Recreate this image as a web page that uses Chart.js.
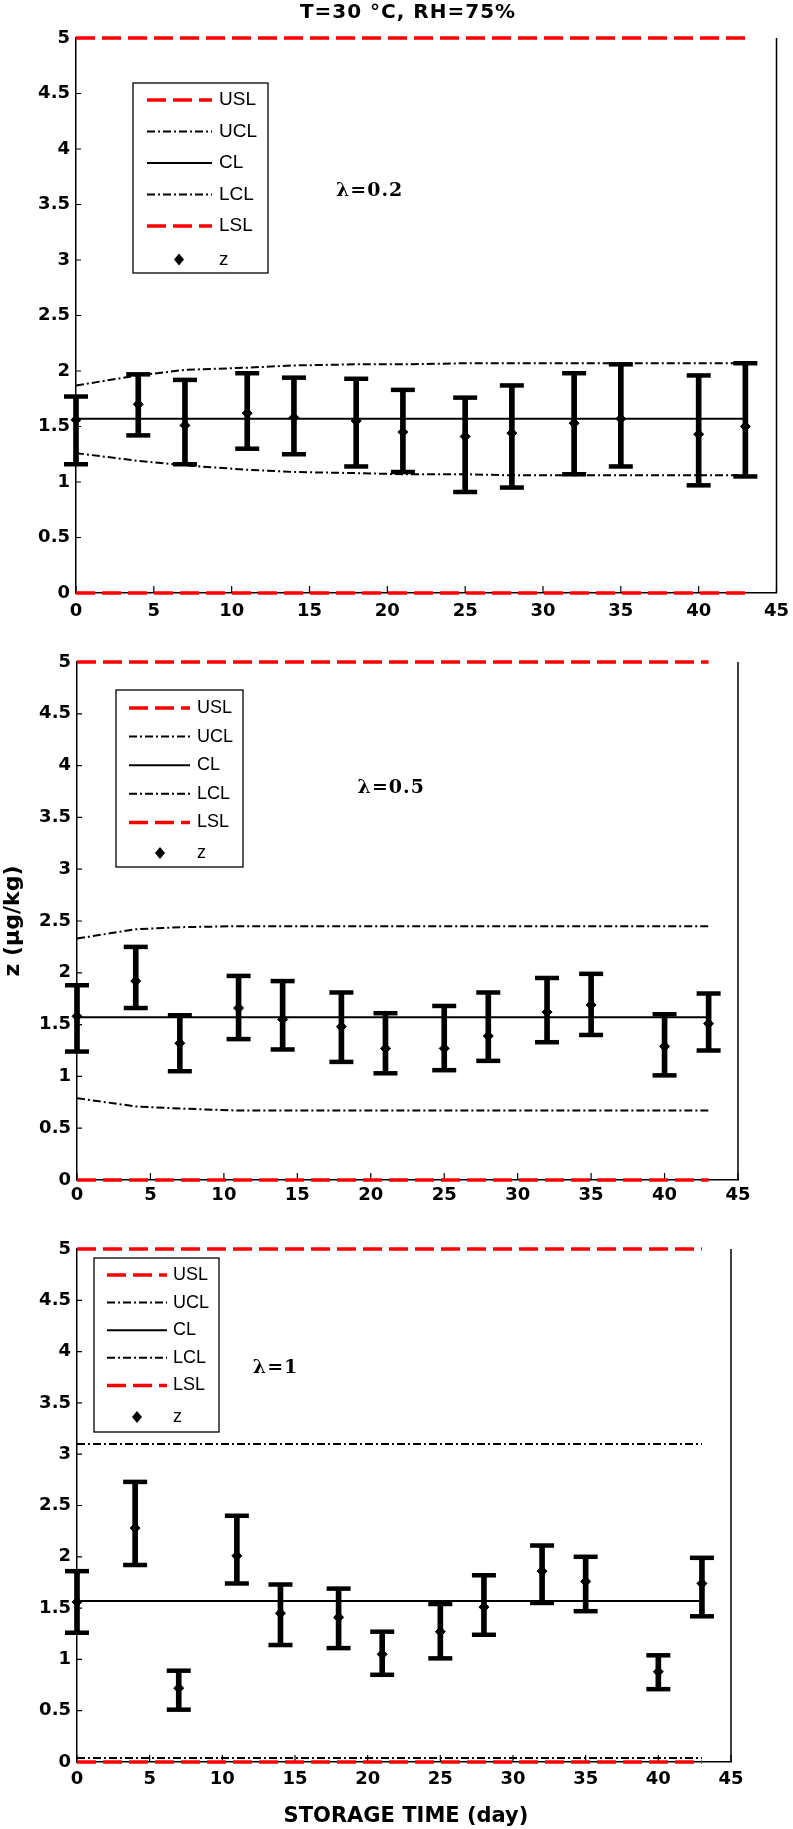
<!DOCTYPE html>
<html>
<head>
<meta charset="utf-8">
<script src="https://cdn.jsdelivr.net/npm/chart.js@4.4.1/dist/chart.umd.min.js"></script>
<style>
  html, body { margin: 0; padding: 0; background: #fff; }
  body { position: relative; width: 793px; height: 1829px; overflow: hidden; }
  canvas { position: absolute; left: 0; }
</style>
</head>
<body>
<canvas id="panel1"></canvas>
<canvas id="panel2"></canvas>
<canvas id="panel3"></canvas>
<script>
// storage days and axis ticks
const days = [0, 4, 7, 11, 14, 18, 21, 25, 28, 32, 35, 40, 43];
const xTicks = [0, 5, 10, 15, 20, 25, 30, 35, 40, 45];
const yTicks = [0, 0.5, 1, 1.5, 2, 2.5, 3, 3.5, 4, 4.5, 5];
const USL = 5;
const LSL = 0;

// lambda = 0.2
const z02   = [1.56, 1.70, 1.51, 1.62, 1.58, 1.55, 1.45, 1.41, 1.44, 1.53, 1.57, 1.43, 1.50];
const lo02  = [1.16, 1.42, 1.16, 1.30, 1.25, 1.14, 1.09, 0.91, 0.95, 1.07, 1.14, 0.97, 1.05];
const hi02  = [1.77, 1.97, 1.92, 1.98, 1.94, 1.93, 1.83, 1.76, 1.87, 1.98, 2.06, 1.96, 2.07];
const ucl02 = [1.87, 1.96, 2.01, 2.03, 2.05, 2.06, 2.06, 2.07, 2.07, 2.07, 2.07, 2.07, 2.07];
const lcl02 = [1.26, 1.19, 1.15, 1.11, 1.09, 1.08, 1.07, 1.07, 1.06, 1.06, 1.06, 1.06, 1.06];
const cl02 = 1.57;

// lambda = 0.5
const z05   = [1.58, 1.92, 1.32, 1.66, 1.55, 1.48, 1.27, 1.27, 1.39, 1.62, 1.69, 1.29, 1.51];
const lo05  = [1.24, 1.66, 1.05, 1.36, 1.26, 1.14, 1.03, 1.06, 1.15, 1.33, 1.40, 1.01, 1.25];
const hi05  = [1.88, 2.25, 1.59, 1.97, 1.92, 1.81, 1.61, 1.68, 1.81, 1.95, 1.99, 1.60, 1.80];
const ucl05 = [2.33, 2.42, 2.44, 2.45, 2.45, 2.45, 2.45, 2.45, 2.45, 2.45, 2.45, 2.45, 2.45];
const lcl05 = [0.79, 0.71, 0.69, 0.67, 0.67, 0.67, 0.67, 0.67, 0.67, 0.67, 0.67, 0.67, 0.67];
const cl05 = 1.57;

// lambda = 1
const z1   = [1.56, 2.28, 0.72, 2.01, 1.45, 1.41, 1.05, 1.27, 1.51, 1.86, 1.76, 0.88, 1.74];
const lo1  = [1.26, 1.92, 0.51, 1.74, 1.14, 1.11, 0.85, 1.01, 1.24, 1.55, 1.47, 0.71, 1.42];
const hi1  = [1.86, 2.73, 0.89, 2.40, 1.73, 1.69, 1.27, 1.54, 1.82, 2.11, 2.00, 1.04, 1.99];
const ucl1 = [3.10, 3.10, 3.10, 3.10, 3.10, 3.10, 3.10, 3.10, 3.10, 3.10, 3.10, 3.10, 3.10];
const lcl1 = [0.04, 0.04, 0.04, 0.04, 0.04, 0.04, 0.04, 0.04, 0.04, 0.04, 0.04, 0.04, 0.04];
const cl1 = 1.57;

const RED = '#ff0000';
const specStyle = { color: RED, width: 3.5, dash: [19, 7] };
const limitStyle = { color: '#000', width: 2, dash: [8, 3, 2, 3] };
const clStyle = { color: '#000', width: 2, dash: [] };
const tickFont = { family: '"DejaVu Sans", sans-serif', size: 18, weight: 'bold' };

const legendItems = [
  { text: 'USL', style: specStyle },
  { text: 'UCL', style: limitStyle },
  { text: 'CL', style: clStyle },
  { text: 'LCL', style: limitStyle },
  { text: 'LSL', style: specStyle },
  { text: 'z', marker: true }
];

function buildDatasets(s) {
  const pts = values => days.map((d, i) => ({ x: d, y: values[i] }));
  const flat = v => [{ x: days[0], y: v }, { x: days[days.length - 1], y: v }];
  const lineSet = (label, data, st, order) => ({
    type: 'line', label, data, order,
    borderColor: st.color, borderWidth: st.width, borderDash: st.dash,
    pointRadius: 0, tension: 0, fill: false, clip: false
  });
  return [
    { type: 'scatter', label: 'z', data: pts(s.z), order: 0, clip: false,
      pointStyle: 'rectRot', pointRadius: 5, pointBackgroundColor: '#000', pointBorderColor: '#000', pointBorderWidth: 1 },
    { type: 'scatter', label: 'caps', data: [...pts(s.lo), ...pts(s.hi)], order: 1, clip: false,
      pointStyle: 'line', pointRadius: 12, pointBorderColor: '#000', pointBorderWidth: 4.5 },
    { type: 'bar', label: 'bars', data: days.map((d, i) => ({ x: d, y: [s.lo[i], s.hi[i]] })), order: 2, clip: false,
      backgroundColor: '#000', borderWidth: 0, barThickness: 5 },
    lineSet('CL', flat(s.cl), clStyle, 3),
    lineSet('UCL', pts(s.ucl), limitStyle, 4),
    lineSet('LCL', pts(s.lcl), limitStyle, 5),
    lineSet('USL', flat(USL), specStyle, 6),
    lineSet('LSL', flat(LSL), specStyle, 7)
  ];
}

function drawLegend(ctx, a, lg) {
  const bx = a.left + lg.left, by = a.top + lg.top;
  ctx.save();
  ctx.fillStyle = '#fff';
  ctx.fillRect(bx, by, lg.width, lg.height);
  ctx.strokeStyle = '#000';
  ctx.lineWidth = 1.3;
  ctx.setLineDash([]);
  ctx.strokeRect(bx, by, lg.width, lg.height);
  ctx.font = lg.font;
  ctx.textBaseline = 'middle';
  ctx.textAlign = 'left';
  legendItems.forEach((it, i) => {
    const ry = by + lg.firstRow + i * lg.rowGap + (it.marker ? lg.zExtra : 0);
    if (it.marker) {
      ctx.fillStyle = '#000';
      ctx.beginPath();
      const mx = bx + lg.markerX;
      ctx.moveTo(mx, ry - 6); ctx.lineTo(mx + 5, ry); ctx.lineTo(mx, ry + 6); ctx.lineTo(mx - 5, ry);
      ctx.closePath();
      ctx.fill();
    } else {
      ctx.strokeStyle = it.style.color;
      ctx.lineWidth = it.style.width;
      ctx.setLineDash(it.style.dash);
      ctx.beginPath();
      ctx.moveTo(bx + lg.sampleFrom, ry);
      ctx.lineTo(bx + lg.sampleTo, ry);
      ctx.stroke();
      ctx.setLineDash([]);
    }
    ctx.fillStyle = '#000';
    ctx.fillText(it.text, bx + lg.textX, ry);
  });
  ctx.restore();
}

function decorPlugin(p) {
  return {
    id: 'panelDecor',
    beforeDatasetsDraw(chart) {
      const { ctx, chartArea: a, scales: { x, y } } = chart;
      ctx.save();
      ctx.strokeStyle = '#000';
      ctx.lineWidth = 1.2;
      ctx.beginPath();
      y.ticks.forEach(t => {
        const py = y.getPixelForValue(t.value);
        ctx.moveTo(a.left, py); ctx.lineTo(a.left + 5, py);
      });
      x.ticks.forEach(t => {
        const px = x.getPixelForValue(t.value);
        ctx.moveTo(px, a.bottom); ctx.lineTo(px, a.bottom - 7);
      });
      ctx.stroke();
      ctx.lineWidth = 1.5;
      ctx.beginPath();
      ctx.moveTo(a.right, a.top); ctx.lineTo(a.right, a.bottom);
      ctx.stroke();
      ctx.restore();
    },
    afterDraw(chart) {
      const { ctx, chartArea: a, scales: { x, y } } = chart;
      drawLegend(ctx, a, p.legend);
      p.notes.forEach(n => {
        ctx.save();
        ctx.font = n.font;
        ctx.fillStyle = '#000';
        ctx.textBaseline = 'middle';
        ctx.textAlign = n.align;
        if (n.spacing) ctx.letterSpacing = n.spacing;
        const px = n.data ? x.getPixelForValue(n.x) : n.x;
        const py = n.data ? y.getPixelForValue(n.y) : n.y;
        ctx.translate(px, py);
        if (n.rotate) ctx.rotate(-Math.PI / 2);
        ctx.fillText(n.text, 0, 0);
        ctx.restore();
      });
    }
  };
}

const panels = [
  {
    id: 'panel1', top: 0, height: 640, xAxisHeight: 40, tickPadX: 8,
    area: { left: 76, top: 38, right: 783, bottom: 593 },
    series: { z: z02, lo: lo02, hi: hi02, ucl: ucl02, lcl: lcl02, cl: cl02 },
    legend: { left: 57, top: 45, width: 135, height: 190, firstRow: 17, rowGap: 31.5, zExtra: 2,
              sampleFrom: 14, sampleTo: 79, textX: 86, markerX: 46, font: '19px "Liberation Sans", Arial, sans-serif' },
    notes: [
      { text: 'T=30 °C, RH=75%', x: 408, y: 13, align: 'center', font: 'bold 20px "DejaVu Sans", sans-serif', spacing: '1px' },
      { text: 'λ=0.2', x: 16.7, y: 3.62, data: true, align: 'left', font: 'bold 19px "DejaVu Serif", serif', spacing: '1px' }
    ]
  },
  {
    id: 'panel2', top: 640, height: 575, xAxisHeight: 30, tickPadX: 5,
    area: { left: 77, top: 662, right: 738, bottom: 1180 },
    series: { z: z05, lo: lo05, hi: hi05, ucl: ucl05, lcl: lcl05, cl: cl05 },
    legend: { left: 39, top: 28, width: 127, height: 177, firstRow: 18, rowGap: 28.6, zExtra: 2,
              sampleFrom: 13, sampleTo: 74, textX: 81, markerX: 44, font: '18px "Liberation Sans", Arial, sans-serif' },
    notes: [
      { text: 'λ=0.5', x: 19.1, y: 3.78, data: true, align: 'left', font: 'bold 19px "DejaVu Serif", serif', spacing: '1px' },
      { text: 'z (μg/kg)', x: 13, y: 281, rotate: true, align: 'center', font: 'bold 22px "DejaVu Sans", sans-serif' }
    ]
  },
  {
    id: 'panel3', top: 1215, height: 614, xAxisHeight: 60, tickPadX: 7,
    area: { left: 77, top: 1249, right: 731, bottom: 1762 },
    series: { z: z1, lo: lo1, hi: hi1, ucl: ucl1, lcl: lcl1, cl: cl1 },
    legend: { left: 17, top: 9, width: 125, height: 174, firstRow: 17, rowGap: 27.6, zExtra: 4,
              sampleFrom: 13, sampleTo: 73, textX: 79, markerX: 43, font: '18px "Liberation Sans", Arial, sans-serif' },
    notes: [
      { text: 'λ=1', x: 12.1, y: 3.84, data: true, align: 'left', font: 'bold 19px "DejaVu Serif", serif', spacing: '1px' },
      { text: 'STORAGE TIME (day)', x: 406, y: 602, align: 'center', font: 'bold 21px "DejaVu Sans", sans-serif' }
    ]
  }
];

panels.forEach(p => {
  const canvas = document.getElementById(p.id);
  canvas.width = 793;
  canvas.height = p.height;
  canvas.style.top = p.top + 'px';
  const a = p.area;
  new Chart(canvas, {
    type: 'scatter',
    data: { datasets: buildDatasets(p.series) },
    options: {
      responsive: false,
      animation: false,
      events: [],
      layout: {
        padding: {
          left: 0,
          top: a.top - p.top,
          right: 793 - a.right,
          bottom: p.height - (a.bottom - p.top) - p.xAxisHeight
        }
      },
      plugins: {
        legend: { display: false },
        tooltip: { enabled: false }
      },
      scales: {
        x: {
          type: 'linear', min: 0, max: 45, offset: false,
          grid: { display: false, drawTicks: false, offset: false },
          border: { display: true, color: '#000', width: 1.5 },
          ticks: { color: '#000', font: tickFont, padding: p.tickPadX, maxRotation: 0, autoSkip: false,
                   callback: v => String(v) },
          afterBuildTicks: s => { s.ticks = xTicks.map(v => ({ value: v })); },
          afterFit: s => { s.height = p.xAxisHeight; s.paddingLeft = 0; s.paddingRight = 0; }
        },
        y: {
          type: 'linear', min: 0, max: 5,
          grid: { display: false, drawTicks: false },
          border: { display: true, color: '#000', width: 1.5 },
          ticks: { color: '#000', font: tickFont, padding: 6, callback: v => String(v) },
          afterBuildTicks: s => { s.ticks = yTicks.map(v => ({ value: v })); },
          afterFit: s => { s.width = a.left; s.paddingTop = 0; s.paddingBottom = 0; }
        }
      }
    },
    plugins: [decorPlugin(p)]
  });
});
</script>
</body>
</html>
